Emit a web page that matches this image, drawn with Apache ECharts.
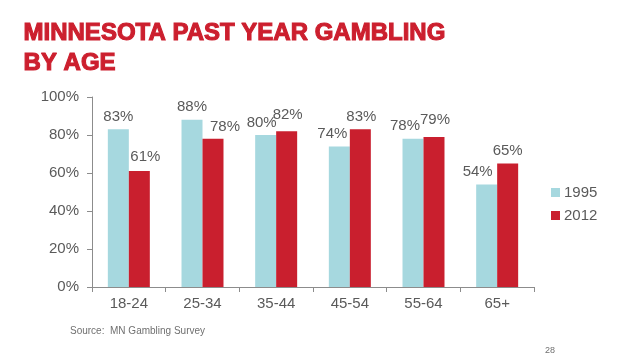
<!DOCTYPE html>
<html><head><meta charset="utf-8">
<script src="https://cdn.jsdelivr.net/npm/echarts@6/dist/echarts.min.js"></script>
<style>html,body{margin:0;padding:0;background:#fff}#c{width:638px;height:359px}</style>
</head><body><div id="c"></div>
<script>
const categories = ['18-24','25-34','35-44','45-54','55-64','65+'];
const seriesNames = ['1995','2012'];
const values1995 = [83, 88, 80, 74, 78, 54];
const values2012 = [61, 78, 82, 83, 79, 65];
const yTicks = [0, 20, 40, 60, 80, 100];

// label nudges (pixels) to mimic the original placement
const nudge1995 = [[0,0],[0,0],[-4,0],[-7,0],[-8,0],[-9,0]];
const nudge2012 = [[6,-2],[12,1],[1,-4],[1,0],[1,-5],[0,0]];

const textGray = '#5a5a5a';
const ff = '"Liberation Sans", Arial, sans-serif';
function mk(vals, nudges){
  return vals.map((v,i)=>({value:v,label:{offset:nudges[i]}}));
}
const chart = echarts.init(document.getElementById('c'), null, {renderer:'canvas'});
chart.setOption({
  animation:false,
  graphic:[
    {type:'text',left:23,top:18,style:{text:'MINNESOTA PAST YEAR GAMBLING\nBY AGE',font:'bold 24px '+ff,fill:'#cc1f2e',stroke:'#cc1f2e',lineWidth:1.1,lineHeight:30}},
    {type:'text',left:70,top:326,style:{text:'Source:  MN Gambling Survey',font:'10px '+ff,fill:'#707070'}},
    {type:'text',left:545,top:346,style:{text:'28',font:'9px '+ff,fill:'#707070'}}
  ],
  grid:{left:92,right:104,top:97,bottom:72,containLabel:false},
  legend:{orient:'vertical',left:546,top:180,itemWidth:9,itemHeight:9,itemGap:8,
    icon:'rect',textStyle:{color:textGray,fontSize:15,fontFamily:ff,padding:[0,0,0,-1]},
    data:seriesNames},
  xAxis:{type:'category',data:categories,
    axisLine:{lineStyle:{color:'#8c8c8c'}},
    axisTick:{show:true,length:5,lineStyle:{color:'#8c8c8c'}},
    axisLabel:{color:textGray,fontSize:15,margin:9,fontFamily:ff}},
  yAxis:{type:'value',min:0,max:100,interval:20,
    axisLine:{show:true,lineStyle:{color:'#8c8c8c'}},
    axisTick:{show:true,length:5,lineStyle:{color:'#8c8c8c'}},
    splitLine:{show:false},
    axisLabel:{color:textGray,fontSize:15,margin:13,fontFamily:ff,
      formatter:v=>yTicks.includes(v)?v+'%':''}},
  series:[
    {name:seriesNames[0],type:'bar',data:mk(values1995,nudge1995),barGap:'0%',barCategoryGap:'43%',
     itemStyle:{color:'#a6d8df'},
     label:{show:true,position:'top',distance:5,color:textGray,fontSize:15,fontFamily:ff,formatter:'{c}%'}},
    {name:seriesNames[1],type:'bar',data:mk(values2012,nudge2012),barGap:'0%',barCategoryGap:'43%',
     itemStyle:{color:'#c91f2e'},
     label:{show:true,position:'top',distance:5,color:textGray,fontSize:15,fontFamily:ff,formatter:'{c}%'}}
  ]
});
</script></body></html>
